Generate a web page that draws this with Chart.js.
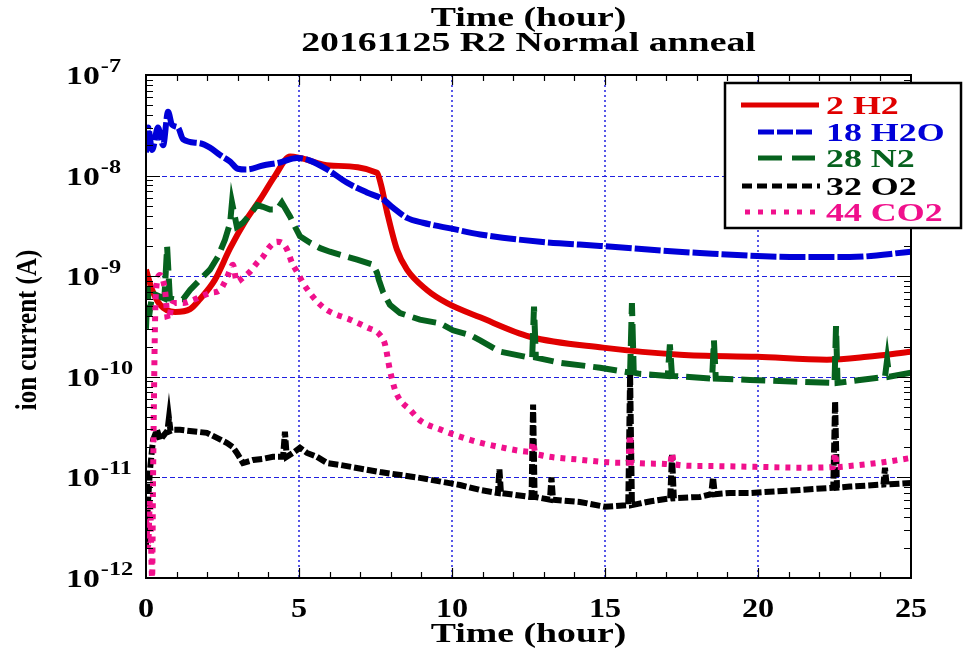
<!DOCTYPE html>
<html>
<head>
<meta charset="utf-8">
<script src="https://cdn.jsdelivr.net/npm/chart.js@4.4.1/dist/chart.umd.min.js"></script>
<style>
html,body{margin:0;padding:0;background:#fff;}
canvas{display:block;}
</style>
</head>
<body>
<canvas id="c" width="963" height="650"></canvas>
<script>
// ---------- data ----------
const titleLines = ["Time (hour)", "20161125 R2 Normal anneal"];
const xTitle = "Time (hour)";
const yTitle = "ion current (A)";
const xTickValues = [0, 5, 10, 15, 20, 25];
const yTickExponents = [-12, -11, -10, -9, -8, -7];
const seriesNames = ["2 H2", "18 H2O", "28 N2", "32 O2", "44 CO2"];

const h2Time = [0,0.2,0.46,0.95,1.44,1.76,2.25,2.75,3.24,3.73,4.22,4.71,5.03,6.01,7.55,7.68,7.88,8.2,8.53,9.18,9.84,10.92,12.55,14.93,17.45,19.97,22.25,23.56,25];
const h2Val = [1.16e-9,7.3e-10,5.2e-10,4.4e-10,4.7e-10,5.9e-10,9.2e-10,1.9e-9,3.5e-9,5.8e-9,1.0e-8,1.55e-8,1.5e-8,1.26e-8,1.07e-8,8.1e-9,4.3e-9,1.84e-9,1.16e-9,7.3e-10,5.4e-10,3.9e-10,2.5e-10,1.95e-10,1.66e-10,1.58e-10,1.48e-10,1.58e-10,1.78e-10];

const h2oTime = [0,0.07,0.2,0.39,0.56,0.72,0.85,1.05,1.21,1.76,2.09,2.42,2.75,3.0,3.3,3.82,4.38,4.93,5.36,5.92,6.57,7.22,7.75,8.07,8.53,9.05,10.03,10.92,12.88,14.84,18.1,21.37,23.0,25];
const h2oVal = [1.7e-8,3.0e-8,1.8e-8,3.0e-8,2.0e-8,4.3e-8,3.2e-8,3.0e-8,2.3e-8,2.1e-8,1.9e-8,1.6e-8,1.38e-8,1.17e-8,1.15e-8,1.26e-8,1.35e-8,1.5e-8,1.41e-8,1.15e-8,8.5e-9,6.8e-9,5.8e-9,4.8e-9,3.8e-9,3.4e-9,2.95e-9,2.6e-9,2.2e-9,2.0e-9,1.7e-9,1.55e-9,1.55e-9,1.75e-9];

const n2Time = [0,0.05,0.1,0.2,0.29,0.6,0.69,0.78,0.95,1.21,1.44,1.76,2.09,2.35,2.58,2.75,2.81,2.97,3.17,3.4,3.63,3.82,4.05,4.28,4.44,4.61,4.71,4.87,5.03,5.36,5.69,6.01,6.9,7.42,7.55,7.61,7.75,7.97,8.3,8.95,9.61,10.03,10.59,10.92,11.57,12.55,12.62,12.68,12.74,13.53,14.84,15.82,15.88,15.94,16.14,17.05,17.12,17.19,18.1,18.5,18.56,18.62,19.74,21.37,22.35,22.5,22.55,22.6,23.33,24.15,24.22,24.29,25];
const n2Val = [3e-10,8e-10,4e-10,6.5e-10,6.6e-10,6e-10,1.97e-9,6e-10,5.9e-10,5.9e-10,7.3e-10,9.2e-10,1.16e-9,1.56e-9,2.3e-9,3.4e-9,5.4e-9,3.1e-9,3.4e-9,4.1e-9,5.1e-9,4.9e-9,4.6e-9,4.6e-9,5.4e-9,4.4e-9,3.9e-9,3.1e-9,2.5e-9,2.15e-9,1.9e-9,1.75e-9,1.46e-9,1.3e-9,1.08e-9,9.2e-10,6.9e-10,5.2e-10,4.3e-10,3.7e-10,3.4e-10,2.9e-10,2.6e-10,2.3e-10,1.78e-10,1.55e-10,1.55e-10,5.0e-10,1.55e-10,1.38e-10,1.23e-10,1.1e-10,5.4e-10,1.1e-10,1.07e-10,1.02e-10,2.1e-10,1.02e-10,9.8e-11,9.6e-11,2.3e-10,9.6e-11,9.3e-11,8.9e-11,8.7e-11,8.7e-11,3.2e-10,8.7e-11,9.3e-11,1.0e-10,1.48e-10,1.0e-10,1.1e-10];

const o2Time = [0,0.07,0.13,0.23,0.36,0.46,0.7,0.75,0.8,0.88,1.11,1.67,1.99,2.32,2.65,2.84,2.97,3.17,3.5,3.82,4.15,4.48,4.54,4.6,4.8,5.03,5.26,5.59,5.92,6.34,7.65,8.95,10.26,10.92,11.5,11.55,11.6,12.55,12.6,12.65,12.7,13.2,13.25,13.3,14.18,15.0,15.76,15.82,15.88,16.5,17.13,17.19,17.25,18.1,18.47,18.53,18.59,19.08,19.74,21.37,22.46,22.52,22.58,23.0,24.1,24.15,24.2,25];
const o2Val = [2.1e-12,6e-12,1.19e-11,2.36e-11,2.97e-11,2.36e-11,2.9e-11,3.9e-11,2.9e-11,2.97e-11,2.97e-11,2.84e-11,2.77e-11,2.47e-11,2.2e-11,2.0e-11,1.75e-11,1.39e-11,1.49e-11,1.53e-11,1.6e-11,1.6e-11,2.84e-11,1.6e-11,1.75e-11,1.97e-11,1.75e-11,1.6e-11,1.39e-11,1.33e-11,1.13e-11,9.9e-12,8.4e-12,7.5e-12,7.0e-12,1.2e-11,7.0e-12,6.4e-12,6.4e-12,5.3e-11,6.4e-12,6.0e-12,1.0e-11,6.0e-12,5.7e-12,5.1e-12,5.3e-12,1.05e-10,5.3e-12,5.8e-12,6.2e-12,1.67e-11,6.2e-12,6.4e-12,6.8e-12,1.0e-11,6.8e-12,7.0e-12,7.0e-12,7.5e-12,7.9e-12,5.7e-11,7.9e-12,8.1e-12,8.5e-12,1.25e-11,8.5e-12,8.8e-12];

const co2Time = [0,0.07,0.13,0.2,0.23,0.26,0.29,0.33,0.46,0.62,0.72,0.88,1.21,1.54,1.76,2.09,2.42,2.58,2.68,2.84,2.97,3.17,3.4,3.63,3.82,4.05,4.28,4.44,4.61,4.77,4.93,5.13,5.36,5.59,5.92,6.67,7.22,7.65,7.81,7.97,8.14,8.3,8.63,8.95,9.61,10.59,11.57,12.59,12.65,12.71,12.88,14.18,15.49,15.76,15.82,15.88,16.8,17.13,17.19,17.25,18.1,20.07,21.37,22.46,22.52,22.58,23.0,23.99,25];
const co2Val = [3.8e-12,2.1e-12,6e-12,1e-12,9.4e-12,5.9e-11,2.9e-10,7.3e-10,1.03e-9,7.3e-10,3.7e-10,5.4e-10,5.4e-10,5.8e-10,6.2e-10,6.8e-10,7.3e-10,8.8e-10,1.03e-9,1.3e-9,8.8e-10,9.7e-10,1.11e-9,1.36e-9,1.56e-9,1.97e-9,2.2e-9,2.15e-9,1.84e-9,1.36e-9,1.11e-9,8.6e-10,6.8e-10,5.6e-10,4.6e-10,3.7e-10,3.1e-10,2.6e-10,2.1e-10,1.17e-10,7.4e-11,5.9e-11,4.7e-11,3.7e-11,3.0e-11,2.36e-11,2.0e-11,1.8e-11,2.25e-11,1.8e-11,1.67e-11,1.5e-11,1.4e-11,1.4e-11,2.65e-11,1.4e-11,1.37e-11,1.35e-11,1.75e-11,1.35e-11,1.3e-11,1.27e-11,1.25e-11,1.27e-11,1.75e-11,1.27e-11,1.3e-11,1.4e-11,1.56e-11];

// ---------- styles ----------
const colors = ["#e00000", "#0000d8", "#06621e", "#000000", "#f0108c"];
const dashes = [[], [26,3], [24,8], [10,3], [5,6]];
const legendDashes = [[], [16,3], [24,10], [10,5], [5,8]];
const legendSpan = [[741,819],[758,815],[758,815],[742,820],[745,817]];
const smooth = [true, true, false, false, true];
const SERIF = '"Liberation Serif", "Times New Roman", serif';

function pts(t, v) { return t.map((x, i) => ({x: x, y: v[i]})); }
const allSeries = [[h2Time,h2Val],[h2oTime,h2oVal],[n2Time,n2Val],[o2Time,o2Val],[co2Time,co2Val]];
const datasets = allSeries.map((s, i) => ({
  label: seriesNames[i],
  data: pts(s[0], s[1]),
  showLine: true,
  borderColor: colors[i],
  backgroundColor: colors[i],
  borderWidth: 6,
  borderDash: dashes[i],
  pointRadius: 0,
  tension: 0,
  cubicInterpolationMode: smooth[i] ? 'monotone' : 'default',
  borderJoinStyle: 'miter',
  borderCapStyle: 'butt'
}));
const order = [4,3,2,1,0];
order.forEach((o, k) => { datasets[o].order = k; });

function stext(ctx, txt, x, y, size, sx, align, color) {
  ctx.save();
  ctx.font = 'bold ' + size + 'px ' + SERIF;
  ctx.fillStyle = color || '#000';
  ctx.textAlign = align || 'left';
  ctx.textBaseline = 'alphabetic';
  ctx.translate(x, y);
  ctx.scale(sx, 1);
  ctx.fillText(txt, 0, 0);
  ctx.restore();
}
function twidth(ctx, txt, size, sx) {
  ctx.save();
  ctx.font = 'bold ' + size + 'px ' + SERIF;
  const w = ctx.measureText(txt).width * sx;
  ctx.restore();
  return w;
}

const decorPlugin = {
  id: 'decor',
  beforeDraw(chart) {
    const ctx = chart.ctx;
    ctx.save();
    ctx.fillStyle = '#fff';
    ctx.fillRect(0, 0, chart.width, chart.height);
    ctx.restore();
  },
  beforeDatasetsDraw(chart) {
    const ctx = chart.ctx, a = chart.chartArea;
    const xs = chart.scales.x, ys = chart.scales.y;
    ctx.save();
    ctx.strokeStyle = '#2020e0';
    ctx.lineWidth = 1;
    ctx.setLineDash([5, 3]);
    yTickExponents.forEach(e => {
      const y = Math.round(ys.getPixelForValue(Math.pow(10, e))) + 0.5;
      if (y <= a.top + 1 || y >= a.bottom - 1) return;
      ctx.beginPath(); ctx.moveTo(a.left, y); ctx.lineTo(a.right, y); ctx.stroke();
    });
    ctx.lineWidth = 1.5;
    ctx.setLineDash([2, 3]);
    xTickValues.forEach(v => {
      const x = Math.round(xs.getPixelForValue(v));
      if (x <= a.left + 1 || x >= a.right - 1) return;
      ctx.beginPath(); ctx.moveTo(x, a.top); ctx.lineTo(x, a.bottom); ctx.stroke();
    });
    ctx.restore();
  },
  afterDraw(chart) {
    const ctx = chart.ctx, a = chart.chartArea;
    const xs = chart.scales.x, ys = chart.scales.y;
    ctx.save();
    ctx.strokeStyle = '#000';
    ctx.lineWidth = 2;
    ctx.setLineDash([]);
    ctx.strokeRect(a.left, a.top, a.right - a.left, a.bottom - a.top);
    ctx.lineWidth = 1.2;
    for (let h = 1; h < 25; h++) {
      const x = Math.round(xs.getPixelForValue(h)) + 0.5;
      const L = (h % 5 === 0) ? 10 : 6;
      ctx.beginPath();
      ctx.moveTo(x, a.bottom); ctx.lineTo(x, a.bottom - L);
      ctx.moveTo(x, a.top); ctx.lineTo(x, a.top + L);
      ctx.stroke();
    }
    for (let e = -12; e < -7; e++) {
      for (let m = 1; m <= 9; m++) {
        const v = m * Math.pow(10, e);
        const y = Math.round(ys.getPixelForValue(v)) + 0.5;
        const L = m === 1 ? 14 : 7;
        ctx.beginPath();
        ctx.moveTo(a.left, y); ctx.lineTo(a.left + L, y);
        ctx.moveTo(a.right, y); ctx.lineTo(a.right - L, y);
        ctx.stroke();
      }
    }
    ctx.restore();

    xTickValues.forEach(v => {
      stext(ctx, String(v), xs.getPixelForValue(v), 617, 28, 1.15, 'center');
    });
    yTickExponents.forEach(e => {
      const y = ys.getPixelForValue(Math.pow(10, e));
      const x0 = 66;
      stext(ctx, '10', x0, y + 9, 26, 1.3, 'left');
      const w = twidth(ctx, '10', 26, 1.3);
      stext(ctx, '-' + String(-e), x0 + w + 1, y - 3, 18, 1.35, 'left');
    });
    const cx = (a.left + a.right) / 2;
    stext(ctx, xTitle, cx, 642, 27, 1.4, 'center');
    stext(ctx, titleLines[0], cx, 26, 27, 1.4, 'center');
    stext(ctx, titleLines[1], cx, 51, 27, 1.4, 'center');
    ctx.save();
    ctx.translate(36, 330);
    ctx.rotate(-Math.PI / 2);
    ctx.scale(1, 1.2);
    ctx.font = 'bold 25px ' + SERIF;
    ctx.fillStyle = '#000';
    ctx.textAlign = 'center';
    ctx.textBaseline = 'alphabetic';
    ctx.fillText(yTitle, 0, 0);
    ctx.restore();

    ctx.save();
    ctx.fillStyle = '#fff';
    ctx.fillRect(725, 83, 236, 145);
    ctx.strokeStyle = '#000';
    ctx.lineWidth = 2.5;
    ctx.strokeRect(725, 83, 236, 145);
    const rows = [105, 132, 158, 186, 212];
    seriesNames.forEach((n, i) => {
      ctx.save();
      ctx.strokeStyle = colors[i];
      ctx.lineWidth = 5;
      ctx.setLineDash(legendDashes[i]);
      ctx.lineCap = 'butt';
      ctx.beginPath();
      ctx.moveTo(legendSpan[i][0], rows[i]);
      ctx.lineTo(legendSpan[i][1], rows[i]);
      ctx.stroke();
      ctx.restore();
      stext(ctx, n, 826, rows[i] + 9, 26, 1.38, 'left', colors[i]);
    });
    ctx.restore();
  }
};

new Chart(document.getElementById('c'), {
  type: 'scatter',
  data: { datasets: datasets },
  options: {
    responsive: false,
    animation: false,
    devicePixelRatio: 1,
    layout: { padding: { top: 75, right: 52, left: 0, bottom: 0 } },
    plugins: { legend: { display: false }, title: { display: false }, tooltip: { enabled: false } },
    scales: {
      x: {
        type: 'linear', min: 0, max: 25,
        ticks: { display: false },
        grid: { display: false },
        border: { display: false },
        afterFit: s => { s.height = 72; }
      },
      y: {
        type: 'logarithmic', min: 1e-12, max: 1e-7,
        ticks: { display: false },
        grid: { display: false },
        border: { display: false },
        afterFit: s => { s.width = 146; }
      }
    }
  },
  plugins: [decorPlugin]
});
</script>
</body>
</html>
